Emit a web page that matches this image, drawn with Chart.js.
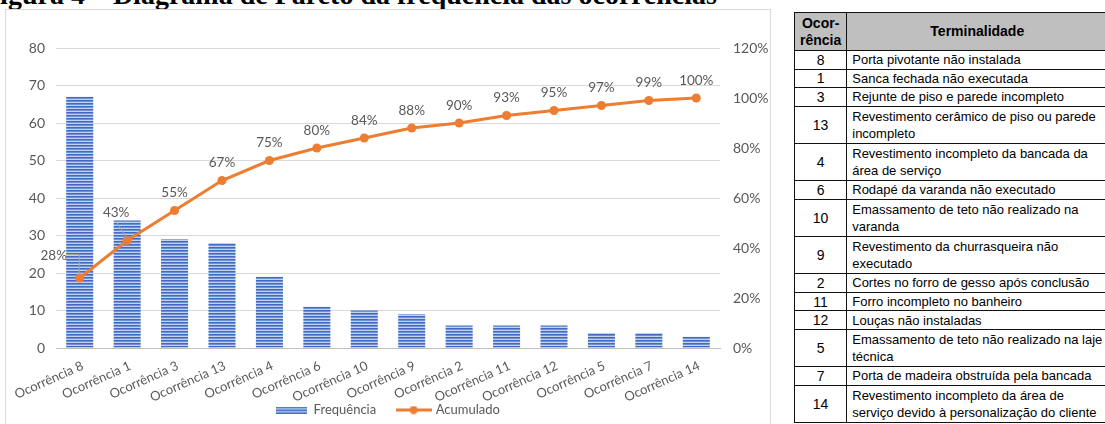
<!DOCTYPE html>
<html><head><meta charset="utf-8">
<script src="https://cdn.jsdelivr.net/npm/chart.js@4.4.1/dist/chart.umd.min.js"></script>
<style>
html,body{margin:0;padding:0;background:#fff;width:1105px;height:424px;overflow:hidden;position:relative;}
#title{position:absolute;left:-17px;top:-19px;font:bold 28px "Liberation Serif","Times New Roman",serif;white-space:nowrap;color:#000;line-height:28px;}
#box{position:absolute;left:5px;top:9px;width:766px;height:440px;border:1px solid #d9d9d9;box-sizing:border-box;}
#c{position:absolute;left:0;top:0;}
table{position:absolute;left:794px;top:12px;border-collapse:collapse;font:13px "Liberation Sans",Arial,sans-serif;color:#000;}
td,th{border:1px solid #111;padding:0 5px;white-space:nowrap;}
th{background:#bfbfbf;font-weight:bold;font-size:14px;line-height:17px;height:37px;}
td.n{text-align:center;width:40px;font-size:14px;}
td.d{width:245px;line-height:17px;}
tr.s td{height:17.6px;}
tr.w td{height:36.2px;}
</style></head>
<body>
<div id="title">Figura 4 – Diagrama de Pareto da frequência das ocorrências</div>
<div id="box"><canvas id="c" width="764" height="438"></canvas></div>
<table id="t"><thead><tr><th>Ocor-<br>rência</th><th>Terminalidade</th></tr></thead><tbody id="tb"></tbody></table>
<script>
// ---- chart data ----
const categories = ['Ocorrência 8','Ocorrência 1','Ocorrência 3','Ocorrência 13','Ocorrência 4','Ocorrência 6','Ocorrência 10','Ocorrência 9','Ocorrência 2','Ocorrência 11','Ocorrência 12','Ocorrência 5','Ocorrência 7','Ocorrência 14'];
const frequencia = [67,34,29,28,19,11,10,9,6,6,6,4,4,3];
const acumulado = [28,43,55,67,75,80,84,88,90,93,95,97,99,100];
const seriesNames = ['Frequência','Acumulado'];
// ---- table data ----
const tableIds = ['8','1','3','13','4','6','10','9','2','11','12','5','7','14'];
const tableDesc = [
 ['Porta pivotante não instalada'],
 ['Sanca fechada não executada'],
 ['Rejunte de piso e parede incompleto'],
 ['Revestimento cerâmico de piso ou parede','incompleto'],
 ['Revestimento incompleto da bancada da','área de serviço'],
 ['Rodapé da varanda não executado'],
 ['Emassamento de teto não realizado na','varanda'],
 ['Revestimento da churrasqueira não','executado'],
 ['Cortes no forro de gesso após conclusão'],
 ['Forro incompleto no banheiro'],
 ['Louças não instaladas'],
 ['Emassamento de teto não realizado na laje','técnica'],
 ['Porta de madeira obstruída pela bancada'],
 ['Revestimento incompleto da área de','serviço devido à personalização do cliente']
];

const tb = document.getElementById('tb');
tableIds.forEach((id,i)=>{
  const tr = document.createElement('tr');
  tr.className = tableDesc[i].length>1 ? 'w' : 's';
  const a = document.createElement('td'); a.className='n'; a.textContent=id;
  const b = document.createElement('td'); b.className='d'; b.innerHTML = tableDesc[i].join('<br>');
  tr.appendChild(a); tr.appendChild(b); tb.appendChild(tr);
});

const canvas = document.getElementById('c');
const ctx = canvas.getContext('2d');
function stripeCanvas(w,h){
  const p=document.createElement('canvas'); p.width=w; p.height=h;
  const g=p.getContext('2d');
  const rows=['#3f6bc4','#6e90d6','#c3d3ef'];
  for(let y=0;y<h;y++){g.fillStyle=rows[y%3]; g.fillRect(0,y,w,1);}
  return p;
}
const barPattern = ctx.createPattern(stripeCanvas(4,3),'repeat');
const barSwatch = stripeCanvas(31,7);
const lineSwatch = (()=>{const p=document.createElement('canvas'); p.width=36; p.height=9; const g=p.getContext('2d');
  g.strokeStyle='#ED7D31'; g.lineWidth=3; g.beginPath(); g.moveTo(0,4.5); g.lineTo(36,4.5); g.stroke();
  g.fillStyle='#ED7D31'; g.beginPath(); g.arc(18,4.5,4,0,Math.PI*2); g.fill(); return p;})();

const FONT='Lato';
const labelPlugin = {
  id:'pctLabels',
  afterDatasetsDraw(chart){
    const meta = chart.getDatasetMeta(0);
    const c = chart.ctx;
    c.save();
    c.strokeStyle='#a6a6a6'; c.lineWidth=1;
    c.font='13.5px '+FONT; c.fillStyle='#595959'; c.textAlign='center'; c.textBaseline='middle';
    meta.data.forEach((pt,i)=>{
      let x=pt.x, y=pt.y-17.5;
      if(i===0){
        x=pt.x-26; y=pt.y-22;
        c.beginPath(); c.moveTo(pt.x-13,pt.y-23.5); c.lineTo(pt.x-0.5,pt.y-23.5); c.lineTo(pt.x-0.5,pt.y-4); c.stroke();
      } else if(i===1){
        x=pt.x-11; y=pt.y-28;
        c.beginPath(); c.moveTo(pt.x-10,pt.y-18); c.lineTo(pt.x-1,pt.y-3); c.stroke();
      }
      c.fillText(acumulado[i]+'%', x, y);
    });
    c.restore();
  }
};

new Chart(canvas, {
  data:{
    labels:categories,
    datasets:[
      {type:'line', label:seriesNames[1], data:acumulado, yAxisID:'y1', borderColor:'#ED7D31', backgroundColor:'#ED7D31',
       borderWidth:3, pointRadius:4.5, pointBackgroundColor:'#ED7D31', pointBorderWidth:0, tension:0},
      {type:'bar', label:seriesNames[0], data:frequencia, yAxisID:'y', backgroundColor:barPattern,
       categoryPercentage:1, barPercentage:0.57}
    ]
  },
  options:{
    responsive:false, animation:false, devicePixelRatio:1,
    layout:{padding:{top:38,left:0,right:0,bottom:21.5}},
    plugins:{
      tooltip:{enabled:false},
      legend:{position:'bottom', align:'center',
        labels:{usePointStyle:true, pointStyleWidth:31, padding:22, color:'#595959', font:{family:FONT,size:13},
          sort:(a,b)=>b.datasetIndex-a.datasetIndex,
          generateLabels(chart){
            const items = Chart.defaults.plugins.legend.labels.generateLabels(chart);
            items.forEach(it=>{ it.pointStyle = it.datasetIndex===1 ? barSwatch : lineSwatch; });
            return items;
          }}
      }
    },
    scales:{
      x:{grid:{display:false, drawTicks:false}, border:{display:true,color:'#bfbfbf',width:1},
         ticks:{color:'#595959', font:{family:FONT,size:13}, minRotation:24, maxRotation:24, padding:10, labelOffset:3, autoSkip:false},
         afterFit(s){ s.height = 33.5; s.paddingLeft = 0; s.paddingRight = 0; s._computeLabelArea = () => null; }},
      y:{position:'left', min:0, max:80, ticks:{stepSize:10, color:'#595959', font:{family:FONT,size:14}, padding:11},
         grid:{color:'#d9d9d9', drawTicks:false}, border:{display:false},
         afterFit(s){ s.width = 50; }},
      y1:{position:'right', min:0, max:120, ticks:{stepSize:20, color:'#595959', font:{family:FONT,size:14}, padding:13, callback:v=>v+'%'},
         grid:{drawOnChartArea:false, drawTicks:false}, border:{display:false},
         afterFit(s){ s.width = 50; }}
    }
  },
  plugins:[labelPlugin]
});
</script>
</body></html>
